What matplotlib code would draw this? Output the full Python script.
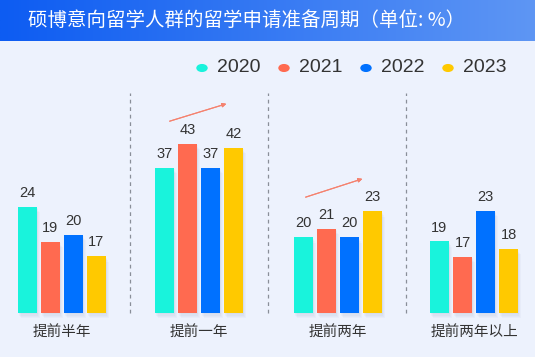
import numpy as np
import matplotlib.pyplot as plt
from matplotlib.patches import Rectangle

plt.rcParams['font.family'] = ['Noto Sans CJK SC', 'DejaVu Sans']

# data
years = ["2020", "2021", "2022", "2023"]
groups = ["提前半年", "提前一年", "提前两年", "提前两年以上"]
values = [
    [24, 19, 20, 17],
    [37, 43, 37, 42],
    [20, 21, 20, 23],
    [19, 17, 23, 18],
]
colors = ["#19f3dc", "#ff6a50", "#0071ff", "#ffc900"]

# each group has its own axis range (the original is not drawn to one scale)
ylims = [(9, 40), (0.75, 55.75), (11.3, 36.6), (9.7, 38.3)]

W, H = 535, 357
fig = plt.figure(figsize=(W / 100, H / 100), dpi=100)
fig.patch.set_facecolor("#edf2fd")

# title bar with gradient
tb = fig.add_axes([0, 1 - 41 / H, 1, 41 / H])
grad = np.linspace(0, 1, 256).reshape(1, -1)
c0 = np.array([0x0d, 0x5c, 0xf2]) / 255
c1 = np.array([0x5e, 0x96, 0xf4]) / 255
img = c0[None, None, :] * (1 - grad[..., None]) + c1[None, None, :] * grad[..., None]
tb.imshow(img, aspect="auto", extent=[0, 1, 0, 1])
tb.set_xlim(0, 1)
tb.set_ylim(0, 1)
tb.axis("off")
tb.text(28 / W, 0.5, "硕博意向留学人群的留学申请准备周期（单位: %）", color="white",
        fontsize=14, va="center", ha="left")

# legend
legend_x = [202, 284, 366, 448]
for lx, yr, c in zip(legend_x, years, colors):
    fig.patches.append(plt.Circle((lx / W, 1 - 68 / H), 5 / W, color=c,
                                  transform=fig.transFigure, figure=fig))
    fig.text((lx + 15) / W, 1 - 68 / H, yr, fontsize=14, color="#333333",
             va="center", ha="left", family="Liberation Sans")

centers = [62, 199, 338, 474]
base_y = 313
top_y = 93
ax_w = 120
pitch = 23
bw = 19 / pitch
x = np.arange(4) - 1.5

for gi in range(4):
    ax = fig.add_axes([(centers[gi] - ax_w / 2) / W, 1 - base_y / H,
                       ax_w / W, (base_y - top_y) / H])
    ax.set_facecolor("none")
    ax.set_xlim(-ax_w / 2 / pitch, ax_w / 2 / pitch)
    lo, hi = ylims[gi]
    ax.set_ylim(lo, hi)
    ax.axis("off")
    vals = values[gi]
    # soft shadows
    for k in range(4):
        d = 0.03 * (k + 1)
        dy = (hi - lo) * 0.006 * (k + 1)
        for xi, v in zip(x, vals):
            ax.add_patch(Rectangle((xi - bw / 2 + d, lo - dy), bw, v - lo,
                                   color="#7a8bb0", alpha=0.05, lw=0,
                                   clip_on=False, zorder=1))
    ax.bar(x, np.array(vals) - lo, bottom=lo, width=bw, color=colors, zorder=2)
    for xi, v in zip(x, vals):
        ax.annotate(str(v), (xi, v), xytext=(0, 5), textcoords="offset points",
                    ha="center", va="bottom", fontsize=10.5, color="#333333",
                    family="Liberation Sans")
    fig.text(centers[gi] / W, 1 - 333 / H, groups[gi], fontsize=10.5,
             color="#333333", ha="center", va="center")

# dashed dividers
for dx in [130, 268, 406]:
    fig.add_artist(plt.Line2D([dx / W, dx / W], [1 - 313 / H, 1 - 93 / H],
                              color="#8a8f99", lw=0.9, ls=(0, (3, 3))))

# trend arrows
for (x0, y0, x1, y1) in [(167, 122, 229, 103), (303, 198, 365, 178)]:
    fig.add_artist(plt.annotate("", xy=(x1 / W, 1 - y1 / H), xytext=(x0 / W, 1 - y0 / H),
                                xycoords="figure fraction",
                                arrowprops=dict(arrowstyle="-|>", color="#f5826f",
                                                lw=0.8, mutation_scale=6)))

fig.savefig("out.png", dpi=100, facecolor=fig.get_facecolor())
